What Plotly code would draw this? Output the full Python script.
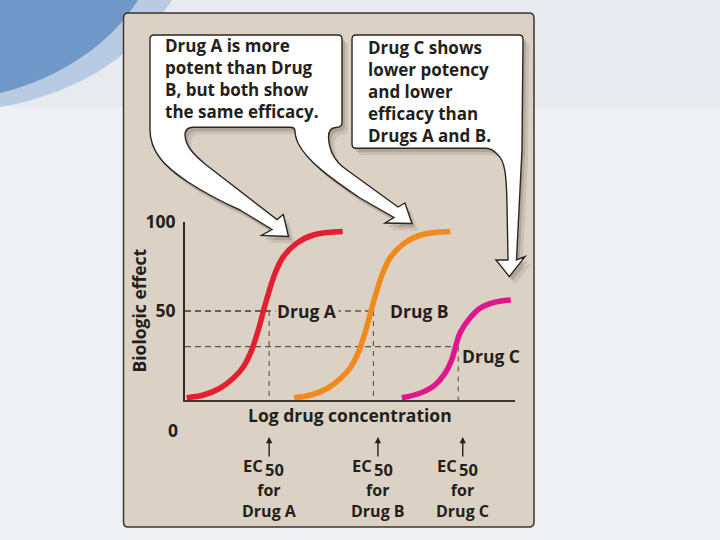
import re

import plotly.graph_objects as go

W, H = 720, 540

# ---- data ----------------------------------------------------------------
drugs = ["Drug A", "Drug B", "Drug C"]

conc_a = [0.05, 0.56, 1.06, 1.46, 1.77, 2.02, 2.22, 2.37, 2.53, 2.73, 2.98, 3.38, 3.89, 4.78]
effect_a = [1.3, 2.8, 6.6, 12.2, 18.7, 28.0, 39.3, 49.6, 60.0, 71.2, 80.5, 88.0, 92.7, 94.6]

conc_b = [3.31, 3.82, 4.32, 4.72, 5.03, 5.28, 5.48, 5.63, 5.79, 5.99, 6.24, 6.64, 7.15, 8.04]
effect_b = [1.3, 2.8, 6.6, 12.2, 18.7, 28.0, 39.3, 49.6, 60.0, 71.2, 80.5, 88.0, 92.7, 94.6]

conc_c = [6.57, 7.12, 7.58, 7.88, 8.08, 8.20, 8.33, 8.59, 8.94, 9.34, 9.87]
effect_c = [1.3, 3.8, 8.5, 15.0, 22.5, 30.0, 37.5, 45.0, 51.5, 54.7, 56.2]

ec50 = [2.55, 5.71, 8.28]
half_effect = [50, 50, 30]

y_ticks = [50, 100]

callout_1 = ["Drug A is more", "potent than Drug", "B, but both show", "the same efficacy."]
callout_2 = ["Drug C shows", "lower potency", "and lower", "efficacy than", "Drugs A and B."]

colors = ["#e3202f", "#f08a1d", "#e0168e"]
INK = "#241f1b"
BEIGE = "#dbd2c5"
FONT = "Open Sans"
SIZE = 17.5


def px_path(d, dx=0, dy=0):
    """Turn an SVG path written in screen pixels into paper coordinates."""
    out, pair = [], []
    for tok in re.findall(r"[A-Z]|-?\d+(?:\.\d+)?", d):
        if tok.isalpha():
            out.append(tok)
            continue
        pair.append(float(tok))
        if len(pair) == 2:
            x, y = pair
            out.append(f"{(x + dx) / W:.5f},{1 - (y + dy) / H:.5f}")
            pair = []
    return " ".join(out)


def py(v):
    return 1 - v / H


def bold(size):
    return dict(family=FONT, size=size, color=INK, weight="bold")


# ---- slide background and callout outlines (pixels) ----------------------
BAND = "M 0,0 L 720,0 L 720,107 L 0,107 Z"
BLUE_LIGHT = "M 0,0 L 172,0 C 140,50 85,92 0,107 Z"
BLUE_DARK = "M 0,0 L 138,0 C 112,42 62,78 0,93 Z"
PANEL = ("M 128,13 L 529,13 Q 534,13 534,18 L 534,522 Q 534,527 529,527 "
         "L 128,527 Q 123.5,527 123.5,522 L 123.5,18 Q 123.5,13 128,13 Z")
BUBBLE_1 = (
    "M 150,39 Q 150,35 154,35 L 338,35 Q 342,35 342,39 L 342,123 "
    "Q 342,127 336,127.5 Q 328.5,128 328.5,137 C 329,152 335,162 347,170 "
    "L 398,207 L 405,203 L 412,223.5 L 385,223 L 394,217.5 L 360,198 "
    "C 330,178 306,160 298,143 Q 295,136 295,131 Q 295,127.3 290,127.3 "
    "L 193,127.3 Q 186,127.3 185,134 C 185,145 192,153 205,164 L 277,219.5 "
    "L 283.3,214.5 L 288.5,236.5 L 261.5,235.5 L 272,229.5 L 240,210 "
    "C 200,192 170,172 160,158 Q 150,145 150,130 Z"
)
BUBBLE_2 = (
    "M 352,39 Q 352,35 356,35 L 519,35 Q 523,35 523,39 L 522,150 "
    "L 516.5,260 L 525,256.7 L 509.3,276.7 L 496,260 L 508,260 L 507,205 "
    "C 506.5,175 505,160 497,154 Q 492,148.5 486,148.3 L 356,148.3 "
    "Q 352,148.3 352,144 Z"
)

shapes = [
    dict(type="path", path=px_path(BAND), fillcolor="#e7eaee", line_width=0),
    dict(type="path", path=px_path(BLUE_LIGHT), fillcolor="#b8cbe2", line_width=0),
    dict(type="path", path=px_path(BLUE_DARK), fillcolor="#6f98c8", line_width=0),
    dict(type="path", path=px_path(PANEL), fillcolor=BEIGE,
         line=dict(color="#3b3530", width=1.5)),
]
for bubble in (BUBBLE_1, BUBBLE_2):
    shapes.append(dict(type="path", path=px_path(bubble, 6, 7),
                       fillcolor="rgba(70,55,40,0.12)", line_width=0))
    shapes.append(dict(type="path", path=px_path(bubble, 3, 4),
                       fillcolor="rgba(70,55,40,0.18)", line_width=0))
for bubble in (BUBBLE_1, BUBBLE_2):
    shapes.append(dict(type="path", path=px_path(bubble), fillcolor="white",
                       line=dict(color="#2b2622", width=1.4)))
for s in shapes:
    s.update(xref="paper", yref="paper", layer="below")

fig = go.Figure()

# dashed guides to the EC50 points
for x50, y50 in zip(ec50, half_effect):
    fig.add_trace(go.Scatter(x=[0, x50], y=[y50, y50], mode="lines",
                             line=dict(color="#5c5650", width=1.4, dash="6px,4px"),
                             hoverinfo="skip"))
    fig.add_trace(go.Scatter(x=[x50, x50], y=[y50, 0], mode="lines",
                             line=dict(color="#5c5650", width=1.1, dash="5px,5px"),
                             hoverinfo="skip"))

for name, xs, ys, col in zip(drugs, [conc_a, conc_b, conc_c],
                             [effect_a, effect_b, effect_c], colors):
    fig.add_trace(go.Scatter(x=xs, y=ys, name=name, mode="lines",
                             line=dict(color=col, width=5.5, shape="spline")))

annotations = [
    dict(x=2.73, y=50, text="Drug A", xref="x", yref="y", xanchor="left",
         bgcolor=BEIGE, borderpad=1),
    dict(x=6.15, y=50, text="Drug B", xref="x", yref="y", xanchor="left"),
    dict(x=8.33, y=24.5, text="Drug C", xref="x", yref="y", xanchor="left"),
    dict(x=173 / W, y=py(430), text="0", xref="paper"),
    dict(x=350 / W, y=py(415), text="Log drug concentration", xref="paper"),
    dict(x=138.5 / W, y=py(311), text="Biologic effect", textangle=-90, xref="paper"),
    dict(x=163 / W, y=py(79), text="<br>".join(callout_1), xanchor="left",
         align="left", xref="paper", font=bold(17)),
    dict(x=366 / W, y=py(91), text="<br>".join(callout_2), xanchor="left",
         align="left", xref="paper", font=bold(17)),
]

# EC50 markers under the axis: arrow, "EC" with a lowered "50", then the drug
for name, x50, nudge in zip(drugs, ec50, [0, 4.5, 4.5]):
    annotations += [
        dict(x=x50, y=py(437), ax=0, ay=21, text="", showarrow=True, xshift=nudge,
             arrowhead=2, arrowsize=0.9, arrowwidth=1.4, arrowcolor=INK),
        dict(x=x50, y=py(465.5), text="EC", xanchor="right", xshift=nudge - 5,
             borderpad=0, font=bold(16.5)),
        dict(x=x50, y=py(469.5), text="50", xanchor="left", xshift=nudge - 5,
             borderpad=0, font=bold(16.5)),
        dict(x=x50, y=py(500), text=f"for<br>{name}", xshift=nudge,
             align="center", borderpad=0, font=bold(16)),
    ]
for a in annotations:
    a.setdefault("xref", "x")
    a.setdefault("yref", "paper")
    a.setdefault("xanchor", "center")
    a.setdefault("yanchor", "middle")
    a.setdefault("showarrow", False)
    a.setdefault("font", bold(SIZE))

fig.update_layout(
    template="none",
    width=W, height=H, autosize=False,
    margin=dict(l=0, r=0, t=0, b=0, pad=0),
    paper_bgcolor="#eef0f3",
    plot_bgcolor="rgba(0,0,0,0)",
    showlegend=False,
    font=bold(SIZE),
    shapes=shapes,
    annotations=annotations,
    xaxis=dict(domain=[185 / W, 515 / W], range=[0, 10], showgrid=False,
               automargin=False, zeroline=False, showticklabels=False, ticks="",
               showline=True, linecolor="#3e3833", linewidth=2),
    yaxis=dict(domain=[py(400), py(222)], range=[0, 100], showgrid=False,
               automargin=False, zeroline=False, tickvals=y_ticks, ticks="",
               ticklabelstandoff=4, tickfont=bold(SIZE),
               showline=True, linecolor="#2e2924", linewidth=2),
)

fig.write_html("out.html", config={"displayModeBar": False},
               post_script="document.body.style.margin = '0';")
